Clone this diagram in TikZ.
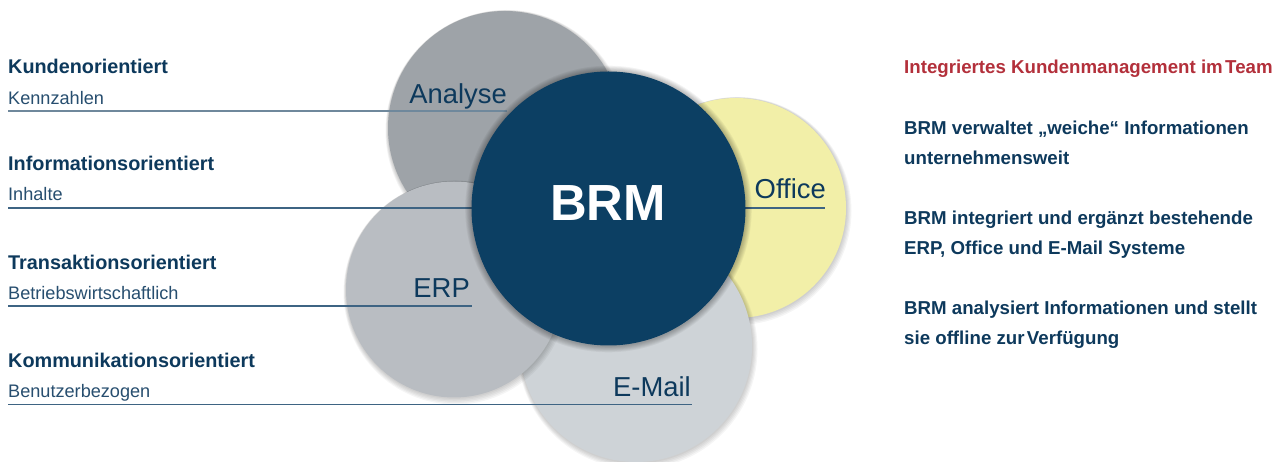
\documentclass[tikz,border=0pt]{standalone}
\usepackage{fontspec}
\setmainfont{Liberation Sans}
\definecolor{navy}{HTML}{0C3F63}
\definecolor{txt}{HTML}{0D395C}
\definecolor{txtlight}{HTML}{274E6F}
\definecolor{redt}{HTML}{B3303B}
\definecolor{cAnalyse}{HTML}{9EA3A8}
\definecolor{cErp}{HTML}{B9BDC2}
\definecolor{cMail}{HTML}{CED3D7}
\definecolor{cOffice}{HTML}{F2EFA8}
\definecolor{lineblue}{HTML}{3E6483}
\definecolor{linegray}{HTML}{6F889C}
\tikzset{
  bubble/.style={circle, inner sep=0pt, draw=none},
  head/.style={anchor=base west, inner sep=0pt, text=txt, font=\bfseries\fontsize{19.9}{22}\selectfont},
  sub/.style={anchor=base west, inner sep=0pt, text=txtlight, font=\fontsize{18.2}{22}\selectfont},
  bublabel/.style={anchor=base east, inner sep=0pt, text=txt, font=\fontsize{27.5}{32}\selectfont},
  rtext/.style={anchor=base west, inner sep=0pt, text=txt, font=\bfseries\fontsize{18.75}{22}\selectfont},
  guide/.style={draw=lineblue, line width=1.3bp},
  softshadow/.style={fill=black, opacity=0.04, draw=none}
}
\newcommand{\bubshadow}[3]{%
  \foreach \d in {1,2,3,4,5}{\fill[softshadow] (#1+0.3*\d,#2+0.6*\d) circle[radius=#3+\d*0.8];}%
}
\begin{document}
\begin{tikzpicture}[x=1bp,y=-1bp]
\useasboundingbox (0,0) rectangle (1281,462);
\clip (0,0) rectangle (1281,462);
\fill[white] (0,0) rectangle (1281,462);

% circles, bottom to top
\bubshadow{505}{128}{117}
\node[bubble, fill=cAnalyse, minimum size=234bp] (analyse) at (505,128) {};
\bubshadow{736}{208}{110}
\node[bubble, fill=cOffice, minimum size=220bp] (office) at (736,208) {};
\bubshadow{636}{346}{116}
\node[bubble, fill=cMail, minimum size=232bp] (email) at (636,346) {};
\bubshadow{454}{289.5}{108}
\node[bubble, fill=cErp, minimum size=216bp] (erp) at (454,289.5) {};

% guide lines
\coordinate (l1s) at (8,111);   \coordinate (l1e) at (507,111);
\coordinate (l2s) at (8,208);   \coordinate (l2e) at (825,208);
\coordinate (l3s) at (8,306);   \coordinate (l3e) at (472,306);
\coordinate (l4s) at (8,404.5); \coordinate (l4e) at (692,404.5);
\draw[guide, draw=linegray] (l1s) -- (l1e);
\draw[guide] (l2s) -- (l2e);
\draw[guide] (l3s) -- (l3e);
\draw[guide] (l4s) -- (l4e);

% central circle
\foreach \d in {1,...,7}{\fill[fill=black, opacity=0.045] (608.5,209) circle[radius=137+\d*0.9];}
\node[bubble, fill=navy, minimum size=274bp] (brm) at (608.5,208.5) {};
\node[anchor=base, inner sep=0pt, text=white, font=\bfseries\fontsize{51}{56}\selectfont] (brmlabel) at (608,220.7) {BRM};

% circle labels
\node[bublabel] (lanalyse) at (507,104) {Analyse};
\node[bublabel] (loffice) at (826,199) {Office};
\node[bublabel] (lerp) at (470,297.7) {ERP};
\node[bublabel] (lemail) at (691,396.7) {E-Mail};

% left texts
\node[head] (h1) at (8,74) {Kundenorientiert};
\node[sub]  (s1) at (8,104.3) {Kennzahlen};
\node[head] (h2) at (8,170.7) {Informationsorientiert};
\node[sub]  (s2) at (8,200.7) {Inhalte};
\node[head] (h3) at (8,269.3) {Transaktionsorientiert};
\node[sub]  (s3) at (8,299.3) {Betriebswirtschaftlich};
\node[head] (h4) at (8,367.3) {Kommunikationsorientiert};
\node[sub]  (s4) at (8,397.7) {Benutzerbezogen};

% right texts
\node[rtext, text=redt] (r0) at (904,74) {Integriertes Kundenmanagement im\kern-0.15em\ Team};
\node[rtext] (r1a) at (904,135) {BRM verwaltet „weiche“ Informationen};
\node[rtext] (r1b) at (904,165) {unternehmensweit};
\node[rtext] (r2a) at (904,225) {BRM integriert und ergänzt bestehende};
\node[rtext] (r2b) at (904,254.5) {ERP, Office und E-Mail Systeme};
\node[rtext] (r3a) at (904,315) {BRM analysiert Informationen und stellt};
\node[rtext] (r3b) at (904,345) {sie offline zur\kern-0.15em\ Verfügung};
\end{tikzpicture}
\end{document}
